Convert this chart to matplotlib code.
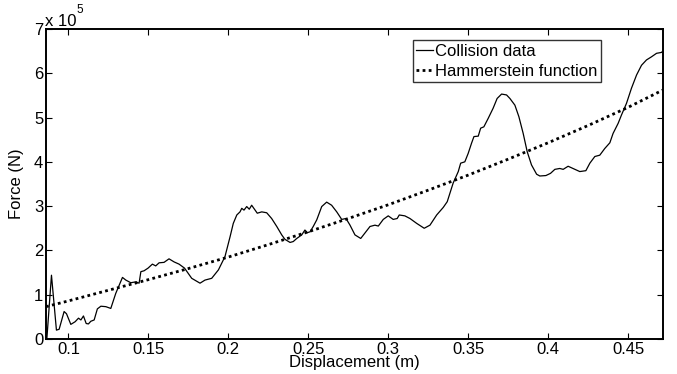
import numpy as np
import matplotlib
matplotlib.use("Agg")
import matplotlib.pyplot as plt

plt.rcParams["font.family"] = ["Liberation Sans", "DejaVu Sans"]

# Measured collision force against displacement (force in units of 1e5 N)
disp_data = [
    0.0865, 0.0894, 0.0925, 0.0942, 0.0973, 0.0988, 0.1015, 0.1042, 0.1063, 0.1078,
    0.1094, 0.1111, 0.1125, 0.1140, 0.1161, 0.1181, 0.1203, 0.1234, 0.1265, 0.1296,
    0.1338, 0.1359, 0.1390, 0.1421, 0.1442, 0.1453, 0.1473, 0.1498, 0.1525, 0.1546,
    0.1567, 0.1598, 0.1629, 0.1661, 0.1692, 0.1726, 0.1771, 0.1823, 0.1854, 0.1896,
    0.1938, 0.1979, 0.2011, 0.2031, 0.2053, 0.2073, 0.2084, 0.2098, 0.2115, 0.2131,
    0.2146, 0.2167, 0.2181, 0.2209, 0.2240, 0.2271, 0.2303, 0.2334, 0.2354, 0.2386,
    0.2406, 0.2428, 0.2459, 0.2479, 0.2494, 0.2511, 0.2531, 0.2553, 0.2584, 0.2615,
    0.2646, 0.2678, 0.2709, 0.2736, 0.2761, 0.2792, 0.2828, 0.2854, 0.2886, 0.2917,
    0.2938, 0.2969, 0.3000, 0.3031, 0.3056, 0.3069, 0.3104, 0.3136, 0.3178, 0.3225,
    0.3261, 0.3303, 0.3344, 0.3369, 0.3406, 0.3438, 0.3453, 0.3479, 0.3500, 0.3521,
    0.3536, 0.3563, 0.3578, 0.3598, 0.3625, 0.3656, 0.3681, 0.3709, 0.3740, 0.3761,
    0.3792, 0.3817, 0.3844, 0.3869, 0.3896, 0.3928, 0.3948, 0.3986, 0.4015, 0.4042,
    0.4073, 0.4094, 0.4125, 0.4156, 0.4198, 0.4236, 0.4261, 0.4292, 0.4323, 0.4354,
    0.4386, 0.4406, 0.4438, 0.4459, 0.4490, 0.4521, 0.4553, 0.4584, 0.4615, 0.4646,
    0.4678, 0.4709, 0.4717,
]
force_data = [
    0.00, 1.44, 0.20, 0.22, 0.62, 0.57, 0.33, 0.39, 0.47, 0.43,
    0.52, 0.35, 0.34, 0.40, 0.43, 0.68, 0.74, 0.73, 0.69, 1.03,
    1.39, 1.33, 1.27, 1.29, 1.26, 1.52, 1.54, 1.60, 1.69, 1.65,
    1.72, 1.73, 1.81, 1.74, 1.69, 1.60, 1.37, 1.26, 1.33, 1.37,
    1.56, 1.86, 2.31, 2.61, 2.80, 2.87, 2.95, 2.91, 2.99, 2.93,
    3.02, 2.91, 2.84, 2.87, 2.85, 2.72, 2.54, 2.35, 2.25, 2.18,
    2.20, 2.27, 2.35, 2.46, 2.40, 2.42, 2.54, 2.69, 2.99, 3.09,
    3.02, 2.87, 2.70, 2.72, 2.57, 2.35, 2.27, 2.39, 2.54, 2.57,
    2.55, 2.70, 2.78, 2.70, 2.72, 2.80, 2.78, 2.72, 2.61, 2.50,
    2.57, 2.80, 2.97, 3.10, 3.52, 3.78, 3.97, 4.00, 4.19, 4.42,
    4.57, 4.58, 4.76, 4.79, 4.98, 5.21, 5.43, 5.53, 5.51, 5.43,
    5.28, 5.02, 4.64, 4.23, 3.93, 3.72, 3.68, 3.69, 3.74, 3.83,
    3.85, 3.83, 3.90, 3.85, 3.78, 3.80, 3.97, 4.12, 4.15, 4.30,
    4.43, 4.64, 4.87, 5.06, 5.32, 5.66, 5.96, 6.18, 6.30, 6.37,
    6.45, 6.47, 6.50,
]

# Fitted Hammerstein model (force in units of 1e5 N)
disp_model = [0.086, 0.1, 0.125, 0.15, 0.175, 0.2, 0.225, 0.25, 0.275,
              0.3, 0.325, 0.35, 0.375, 0.4, 0.425, 0.45, 0.4717]
force_model = [0.73, 0.86, 1.10, 1.34, 1.59, 1.85, 2.13, 2.42, 2.72,
               3.03, 3.36, 3.70, 4.06, 4.43, 4.82, 5.23, 5.62]

x_ticks = [0.1, 0.15, 0.2, 0.25, 0.3, 0.35, 0.4, 0.45]
y_ticks = [0, 1, 2, 3, 4, 5, 6, 7]

fs = 12

fig = plt.figure(figsize=(6.77, 3.74), dpi=100)
ax = fig.add_axes([0.068, 0.0936, 0.911, 0.829])

ax.plot(disp_data, force_data, color="black", lw=0.9, label="Collision data")
ax.plot(disp_model, force_model, color="black", lw=2.0,
        linestyle=(0, (1, 1.2)), label="Hammerstein function")

ax.set_xlim(0.086, 0.4717)
ax.set_ylim(0, 7)
ax.set_xticks(x_ticks)
ax.set_xticklabels([f"{t:g}" for t in x_ticks])
ax.set_yticks(y_ticks)
ax.set_yticklabels([str(t) for t in y_ticks])

ax.tick_params(direction="in", top=True, right=True, length=4, width=0.8,
               labelsize=fs, pad=2)
for side in ax.spines.values():
    side.set_linewidth(1.4)

ax.set_xlabel("Displacement (m)", fontsize=fs, labelpad=-1)
ax.set_ylabel("Force (N)", fontsize=fs, labelpad=7)

fig.text(0.067, 0.922, "x 10", fontsize=fs, ha="left", va="bottom")
fig.text(0.113, 0.958, "5", fontsize=8.5, ha="left", va="bottom")

leg = ax.legend(loc="upper right", bbox_to_anchor=(0.8995, 0.9645),
                fontsize=fs, frameon=True, fancybox=False, handlelength=1.0,
                handletextpad=0.1, borderpad=0.22, labelspacing=0.3,
                borderaxespad=0)
leg.get_frame().set_edgecolor("black")
leg.get_frame().set_linewidth(1.0)

fig.savefig("out.png", dpi=100)
